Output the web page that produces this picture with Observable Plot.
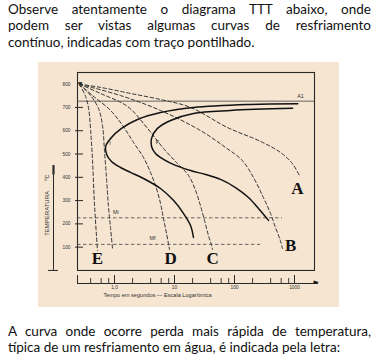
<!DOCTYPE html>
<html><head><meta charset="utf-8">
<script src="https://cdn.jsdelivr.net/npm/d3@7"></script>
<script src="https://cdn.jsdelivr.net/npm/@observablehq/plot@0.6"></script>
<style>
html,body{margin:0;padding:0;background:#fff;}
body{width:380px;height:361px;position:relative;overflow:hidden;font-family:Lato,"Open Sans",sans-serif;color:#111;}
.para{position:absolute;left:8px;width:363px;font-size:13.5px;line-height:16.5px;}
.j{text-align:justify;text-align-last:justify;}
#top{top:0.5px;}
#bottom{top:322.5px;line-height:16px;}
#chart{position:absolute;left:38px;top:62px;width:301px;height:245px;background:#f5e5d1;}
</style></head>
<body>
<div id="top" class="para"><div class="j">Observe atentamente o diagrama TTT abaixo, onde</div><div class="j">podem ser vistas algumas curvas de resfriamento</div><div>contínuo, indicadas com traço pontilhado.</div></div>
<div id="chart"></div>
<div id="bottom" class="para"><div class="j">A curva onde ocorre perda mais rápida de temperatura,</div><div style="white-space:nowrap">típica de um resfriamento em água, é indicada pela letra:</div></div>
<script>
// ---- data (time in seconds, temperature in °C) ----
const yTicks = [100, 200, 300, 400, 500, 600, 700, 800];
const xMajorTicks = [1, 10, 100, 1000];
const xTickLabels = ["1,0", "10", "100", "1000"];
const xMinorTicks = [0.4, 0.6, 0.8, 2, 4, 6, 8, 20, 40, 60, 80, 200, 400, 600, 800];

// dashed continuous-cooling curves
const coolE_t = [0.26, 0.33, 0.37, 0.40, 0.43, 0.46, 0.50, 0.52];
const coolE_T = [800, 747, 696, 601, 472, 301, 150, 86];
const coolCrit_t = [0.26, 0.40, 0.54, 0.63, 0.68, 0.74, 0.79, 0.86, 0.93];
const coolCrit_T = [800, 751, 696, 623, 515, 386, 279, 180, 90];
const coolD_t = [0.26, 0.43, 0.86, 1.36, 2.07, 3.04, 3.98, 5.0, 5.84, 6.55, 7.36, 8.25];
const coolD_T = [800, 751, 687, 623, 550, 485, 421, 352, 288, 223, 159, 90];
const coolC_t = [0.26, 0.585, 1.65, 3.55, 6.55, 11.2, 17.1, 22.4, 27, 31.6, 36.8, 41.5, 43];
const coolC_T = [800, 760, 704, 610, 524, 459, 408, 344, 279, 215, 150, 107, 90];
const coolB_t = [0.26, 1.26, 5.84, 27, 71, 135, 207, 303, 398, 480, 580, 630];
const coolB_T = [800, 751, 687, 601, 528, 472, 399, 313, 245, 185, 129, 94];
const coolA_t = [0.26, 0.585, 1.85, 5.84, 18.5, 76, 272, 582, 921, 1205];
const coolA_T = [800, 786, 760, 734, 700, 614, 554, 507, 459, 408];

// solid TTT curves: start (I) and finish (F) of transformation
const startI_t = [1136, 184, 20.7, 5.84, 2.42, 1.31, 0.86, 0.71, 0.74, 0.89, 1.26, 1.85, 3.04, 5.84, 9.6, 14.1, 18.5, 20.7];
const startI_T = [716, 713, 700, 678, 648, 610, 567, 532, 498, 468, 442, 421, 395, 352, 301, 245, 193, 142];
const finishF_t = [930, 85.8, 20.7, 8.6, 5.2, 4.14, 4.14, 4.82, 6.55, 10.4, 18.5, 32.9, 58.5, 104, 171, 251, 369];
const finishF_T = [696, 687, 674, 644, 610, 567, 532, 502, 477, 451, 429, 412, 391, 356, 313, 266, 215];

// horizontal reference lines
const A1 = 727;
const martNames = ["Mi", "Mf"];
const martT = [226, 112];
const martEnd = [630, 272];

// annotations (data coordinates)
const letters = ["A", "B", "C", "D", "E"];
const letterX = [1120, 860, 43, 8.6, 0.52];
const letterY = [350, 105, 50, 50, 50];
const smallLabels = ["A1", "Mi", "Mf", "I", "F"];
const smallX = [1259, 1.05, 4.3, 0.84, 5.2];
const smallY = [748, 249, 137, 545, 550];

// ---- layout ----
const W = 301, H = 245;
const mt = 10, mb = 24, ml = 39, mr = 25;
const plotW = W - ml - mr, plotH = H - mt - mb;
const X_MIN = 0.2416, X_MAX = 2154, Y_MIN = -56, Y_MAX = 850;
const frameInset = plotH * (0 - Y_MIN) / (Y_MAX - Y_MIN);

function series(name, ts, Ts) { return ts.map((t, i) => ({name, t, T: Ts[i]})); }
const cooling = [
  ...series("E", coolE_t, coolE_T),
  ...series("crit", coolCrit_t, coolCrit_T),
  ...series("D", coolD_t, coolD_T),
  ...series("C", coolC_t, coolC_T),
  ...series("B", coolB_t, coolB_T),
  ...series("A", coolA_t, coolA_T)
];
const ttt = [...series("I", startI_t, startI_T), ...series("F", finishF_t, finishF_T)];

const ink = "#2a2a2a";
const chart = Plot.plot({
  width: W, height: H,
  marginTop: mt, marginBottom: mb, marginLeft: ml, marginRight: mr,
  style: {background: "transparent", fontFamily: "'Liberation Sans', Arial, sans-serif", fontSize: "4.8px", color: "#333"},
  x: {type: "log", domain: [X_MIN, X_MAX], ticks: xMajorTicks, tickSize: 0, tickPadding: 2.5,
      tickFormat: d => xTickLabels[xMajorTicks.indexOf(d)] ?? "", label: null},
  y: {domain: [Y_MIN, Y_MAX], ticks: yTicks, tickSize: 0, tickPadding: 7, label: null},
  marks: [
    Plot.frame({insetBottom: frameInset, stroke: ink, strokeWidth: 1.1}),
    Plot.ruleY([A1], {stroke: "#555", strokeWidth: 0.9}),
    // y ticks pointing inward
    Plot.tickY(yTicks.slice(0, -1), {insetLeft: -2, insetRight: plotW - 6, stroke: ink, strokeWidth: 1}),
    Plot.text(["▼"], {x: () => X_MIN, y: () => 800, dx: 2.5, fontSize: 6, fill: "#111", fontFamily: "DejaVu Sans"}),
    // x axis baseline, ticks and arrow
    Plot.ruleY([Y_MIN], {insetRight: -4, stroke: ink, strokeWidth: 1}),
    Plot.tickX([X_MIN, ...xMajorTicks], {insetTop: plotH - 8, stroke: ink, strokeWidth: 1}),
    Plot.tickX(xMinorTicks, {insetTop: plotH - 5, stroke: ink, strokeWidth: 0.9}),
    Plot.text(["►"], {frameAnchor: "bottom-right", dx: -1, textAnchor: "start", fontSize: 7, fill: "#111", fontFamily: "DejaVu Sans"}),
    Plot.text(["Tempo em segundos — Escala Logarítmica"], {frameAnchor: "bottom", x: () => 5.2, dy: 13, fontSize: 5.6, fill: "#333"}),
    // y label with arrow
    Plot.ruleX([X_MIN], {y1: 0, y2: 450, dx: -24, stroke: ink, strokeWidth: 1}),
    Plot.ruleX([X_MIN], {y1: 410, y2: 450, dx: -24, stroke: ink, strokeWidth: 2.2}),
    Plot.ruleY([0], {x1: X_MIN, x2: X_MIN, dx: -24, insetLeft: -5, insetRight: -5, stroke: ink, strokeWidth: 1}),
    Plot.text(["TEMPERATURA"], {x: () => X_MIN, y: () => 245, dx: -30, rotate: -90, fontSize: 6, fill: "#333"}),
    Plot.text(["ºC"], {x: () => X_MIN, y: () => 399, dx: -30, rotate: -90, fontSize: 5.5, fill: "#333"}),
    // martensite lines
    Plot.ruleY(martT, {y: d => d, x1: () => X_MIN, x2: (d, i) => martEnd[i], stroke: "#444", strokeWidth: 0.8, strokeDasharray: "3.5,2.5"}),
    // cooling curves
    Plot.line(cooling, {x: "t", y: "T", z: "name", curve: "catmull-rom", stroke: "#333", strokeWidth: 1, strokeDasharray: "3.5,2.5"}),
    // TTT curves
    Plot.line(ttt, {x: "t", y: "T", z: "name", curve: "catmull-rom", stroke: "#111", strokeWidth: 1.5}),
    // labels
    Plot.text(smallLabels, {x: (d, i) => smallX[i], y: (d, i) => smallY[i], text: d => d, fontSize: 5.5, fill: "#333"}),
    Plot.text(letters, {x: (d, i) => letterX[i], y: (d, i) => letterY[i], text: d => d, fontSize: 17, fontWeight: "bold", fontFamily: "'Liberation Serif', serif", fill: "#111"})
  ]
});
document.getElementById("chart").appendChild(chart);
</script>
</body></html>
